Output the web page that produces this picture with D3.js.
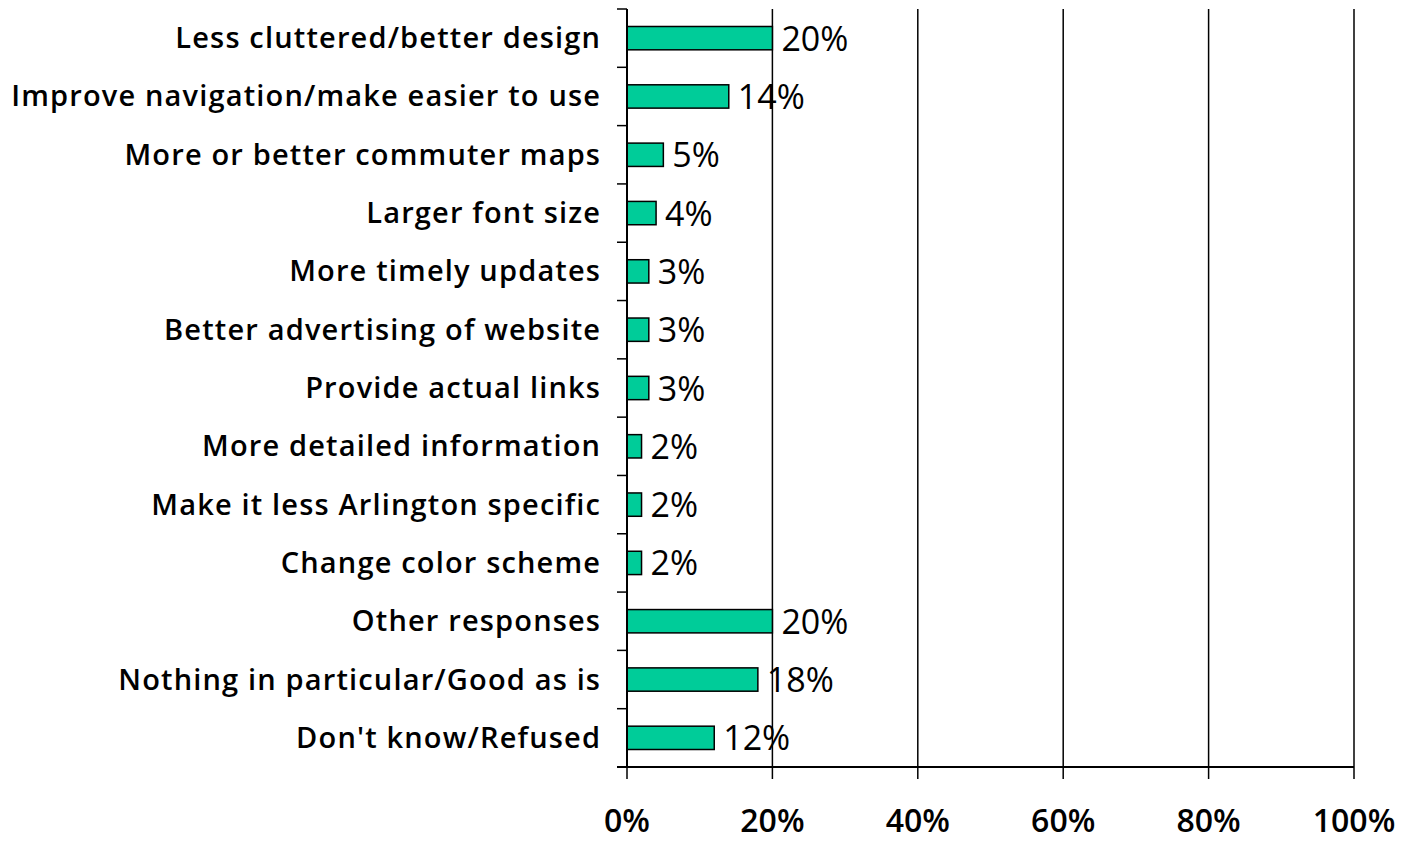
<!DOCTYPE html>
<html><head><meta charset="utf-8">
<script src="https://cdn.jsdelivr.net/npm/d3@7/dist/d3.min.js"></script>
<style>body{margin:0;background:#fff}svg{display:block}</style>
</head><body>
<script>
const categories = ["Less cluttered/better design","Improve navigation/make easier to use","More or better commuter maps","Larger font size","More timely updates","Better advertising of website","Provide actual links","More detailed information","Make it less Arlington specific","Change color scheme","Other responses","Nothing in particular/Good as is","Don't know/Refused"];
const values = [20,14,5,4,3,3,3,2,2,2,20,18,12];
const xTicks = [0,20,40,60,80,100];

const W=1416,H=841;
const m={left:627,right:1354,top:9,bottom:767};
const svg=d3.select("body").append("svg").attr("width",W).attr("height",H);
const x=d3.scaleLinear().domain([0,100]).range([m.left,m.right]);
const y=d3.scaleBand().domain(categories).range([m.top,m.bottom]).paddingInner(0.6).paddingOuter(0.3);
const font="'Open Sans', sans-serif";

// gridlines
svg.append("g").selectAll("line").data(xTicks.slice(1)).join("line")
 .attr("x1",d=>x(d)).attr("x2",d=>x(d)).attr("y1",m.top).attr("y2",m.bottom)
 .attr("stroke","#000").attr("stroke-width",1.5);

// bars
svg.append("g").selectAll("rect").data(values).join("rect")
 .attr("x",x(0)).attr("y",(d,i)=>y(categories[i]))
 .attr("width",d=>x(d)-x(0)).attr("height",y.bandwidth())
 .attr("fill","#00cc99").attr("stroke","#000").attr("stroke-width",1.5);

// value labels
svg.append("g").selectAll("text").data(values).join("text")
 .attr("x",d=>x(d)+9).attr("y",(d,i)=>y(categories[i])+y.bandwidth()/2+12.5)
 .attr("font-family",font).attr("font-size",34).attr("font-weight",400).text(d=>d+"%");

// y axis
svg.append("line").attr("x1",m.left).attr("x2",m.left).attr("y1",m.top).attr("y2",m.bottom).attr("stroke","#000").attr("stroke-width",2);
const step=(m.bottom-m.top)/categories.length;
const bounds=d3.range(categories.length+1).map(i=>m.top+i*step);
svg.append("g").selectAll("line").data(bounds).join("line")
 .attr("x1",m.left-10).attr("x2",m.left).attr("y1",d=>d).attr("y2",d=>d).attr("stroke","#000").attr("stroke-width",1.5);
const catLabels=svg.append("g").selectAll("text").data(categories).join("text")
 .attr("x",600).attr("y",d=>y(d)+y.bandwidth()/2+10).attr("text-anchor","end")
 .attr("font-family",font).attr("font-size",29).attr("font-weight",600).text(d=>d);
// widen letter spacing slightly so the longest label spans as in the reference
const longest=catLabels.filter((d,i)=>i===1).node();
const w=longest.getComputedTextLength();
const ls=Math.max(0,(590-w)/(categories[1].length));
catLabels.attr("letter-spacing",ls+"px").attr("x",600+ls);

// x axis
svg.append("line").attr("x1",m.left-10).attr("x2",m.right).attr("y1",m.bottom).attr("y2",m.bottom).attr("stroke","#000").attr("stroke-width",2);
svg.append("g").selectAll("line").data(xTicks).join("line")
 .attr("x1",d=>x(d)).attr("x2",d=>x(d)).attr("y1",m.bottom).attr("y2",m.bottom+12).attr("stroke","#000").attr("stroke-width",1.5);
svg.append("g").selectAll("text").data(xTicks).join("text")
 .attr("x",d=>x(d)).attr("y",832).attr("text-anchor","middle")
 .attr("font-family",font).attr("font-size",32).attr("font-weight",600).text(d=>d+"%");
</script>
</body></html>
